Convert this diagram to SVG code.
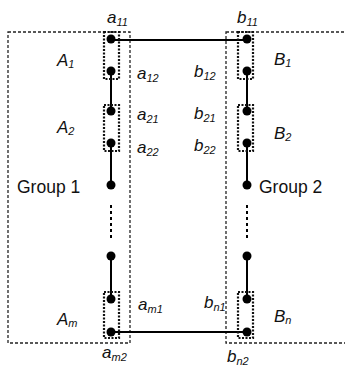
<svg xmlns="http://www.w3.org/2000/svg" width="345" height="367" viewBox="0 0 345 367">
<style>
.outer{fill:none;stroke:#222;stroke-width:1.3;stroke-dasharray:3 2}
.inner{fill:none;stroke:#111;stroke-width:2.2;stroke-dasharray:2 1.5}
.node{fill:#000}
.wire{stroke:#000;stroke-width:2;fill:none}
.dash{stroke:#000;stroke-width:2;stroke-dasharray:3 3;fill:none}
text{font-family:"Liberation Sans",Arial,sans-serif;fill:#111}
.lbl{font-size:17px;font-style:italic}
.sub{font-size:11px}
.grp{font-size:17.5px}
</style>
<rect width="345" height="367" fill="#fff"/>
<g id="group1">
<rect class="outer" x="8" y="32" width="122" height="311"/>
<text class="grp" x="17" y="193">Group 1</text>
</g>
<g id="group2">
<rect class="outer" x="226" y="32" width="130" height="311"/>
<text class="grp" x="259" y="193">Group 2</text>
</g>
<g id="connectors">
<line class="wire" x1="111" y1="40" x2="247" y2="40"/>
<line class="wire" x1="111" y1="332" x2="247" y2="332"/>
<line class="wire" x1="111" y1="71" x2="111" y2="111"/>
<line class="wire" x1="111" y1="143" x2="111" y2="185"/>
<line class="dash" x1="111" y1="205" x2="111" y2="238"/>
<line class="wire" x1="111" y1="256" x2="111" y2="299"/>
<line class="wire" x1="247" y1="71" x2="247" y2="111"/>
<line class="wire" x1="247" y1="143" x2="247" y2="185"/>
<line class="dash" x1="247" y1="205" x2="247" y2="238"/>
<line class="wire" x1="247" y1="256" x2="247" y2="299"/>
</g>
<g id="A1">
<rect class="inner" x="104" y="32" width="15" height="47"/>
<text class="lbl" x="57" y="66">A<tspan class="sub" dy="2">1</tspan></text>
</g>
<g id="A2">
<rect class="inner" x="104" y="105" width="15" height="46"/>
<text class="lbl" x="57" y="133">A<tspan class="sub" dy="2">2</tspan></text>
</g>
<g id="Am">
<rect class="inner" x="104" y="292" width="15" height="46"/>
<text class="lbl" x="57" y="325">A<tspan class="sub" dy="2">m</tspan></text>
</g>
<g id="B1">
<rect class="inner" x="238" y="32" width="15" height="47"/>
<text class="lbl" x="274" y="65">B<tspan class="sub" dy="2">1</tspan></text>
</g>
<g id="B2">
<rect class="inner" x="238" y="105" width="15" height="46"/>
<text class="lbl" x="274" y="139">B<tspan class="sub" dy="2">2</tspan></text>
</g>
<g id="Bn">
<rect class="inner" x="238" y="292" width="15" height="46"/>
<text class="lbl" x="274" y="322">B<tspan class="sub" dy="2">n</tspan></text>
</g>
<g id="a11"><circle class="node" cx="111" cy="39" r="4.5"/><text class="lbl" x="107" y="23">a<tspan class="sub" dy="3">11</tspan></text></g>
<g id="a12"><circle class="node" cx="111" cy="71" r="4.5"/><text class="lbl" x="137" y="79">a<tspan class="sub" dy="3">12</tspan></text></g>
<g id="a21"><circle class="node" cx="111" cy="111" r="4.5"/><text class="lbl" x="137" y="120">a<tspan class="sub" dy="3">21</tspan></text></g>
<g id="a22"><circle class="node" cx="111" cy="143" r="4.5"/><text class="lbl" x="137" y="153">a<tspan class="sub" dy="3">22</tspan></text></g>
<g id="a3"><circle class="node" cx="111" cy="185" r="4.5"/></g>
<g id="a4"><circle class="node" cx="111" cy="256" r="4.5"/></g>
<g id="am1"><circle class="node" cx="111" cy="299" r="4.5"/><text class="lbl" x="138" y="310">a<tspan class="sub" dy="3">m1</tspan></text></g>
<g id="am2"><circle class="node" cx="111" cy="332" r="4.5"/><text class="lbl" x="102" y="358">a<tspan class="sub" dy="3">m2</tspan></text></g>
<g id="b11"><circle class="node" cx="247" cy="39" r="4.5"/><text class="lbl" x="237" y="23">b<tspan class="sub" dy="3">11</tspan></text></g>
<g id="b12"><circle class="node" cx="247" cy="71" r="4.5"/><text class="lbl" x="194" y="77">b<tspan class="sub" dy="3">12</tspan></text></g>
<g id="b21"><circle class="node" cx="247" cy="111" r="4.5"/><text class="lbl" x="194" y="119">b<tspan class="sub" dy="3">21</tspan></text></g>
<g id="b22"><circle class="node" cx="247" cy="143" r="4.5"/><text class="lbl" x="194" y="151">b<tspan class="sub" dy="3">22</tspan></text></g>
<g id="b3"><circle class="node" cx="247" cy="185" r="4.5"/></g>
<g id="b4"><circle class="node" cx="247" cy="256" r="4.5"/></g>
<g id="bn1"><circle class="node" cx="247" cy="299" r="4.5"/><text class="lbl" x="204" y="308">b<tspan class="sub" dy="3">n1</tspan></text></g>
<g id="bn2"><circle class="node" cx="247" cy="332" r="4.5"/><text class="lbl" x="227" y="362">b<tspan class="sub" dy="3">n2</tspan></text></g>
</svg>
